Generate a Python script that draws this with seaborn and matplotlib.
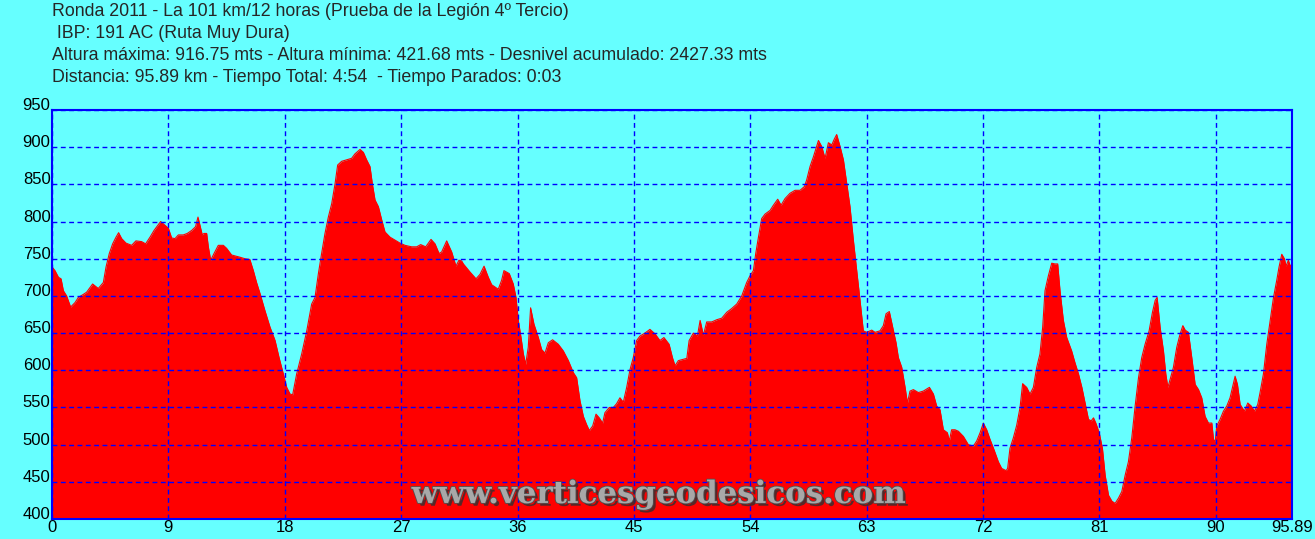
import numpy as np
import pandas as pd
import matplotlib
matplotlib.use("Agg")
import matplotlib.pyplot as plt
import matplotlib.patheffects as pe
import seaborn as sb

# elevation profile (km, metres)
km = [0.0, 0.23, 0.5, 0.7, 0.88, 1.13, 1.44, 1.78, 2.04, 2.42, 2.68, 3.14, 3.58, 3.97, 4.18, 4.43,
      4.69, 4.95, 5.15, 5.39, 5.72, 6.16, 6.49, 6.93, 7.24, 7.58, 7.89, 8.14, 8.40, 8.74, 9.0, 9.25,
      9.51, 9.77, 10.15, 10.46, 10.8, 11.1, 11.29, 11.44, 11.62, 11.75, 11.96, 12.09, 12.27, 12.53,
      12.86, 13.25, 13.5, 13.89, 14.54, 14.92, 15.3, 15.57, 15.82, 16.09, 16.47, 16.86, 17.25, 17.56,
      17.89, 18.15, 18.41, 18.61, 18.92, 19.31, 19.7, 20.08, 20.34, 20.6, 20.85, 21.11, 21.37, 21.63,
      21.89, 22.09, 22.4, 22.79, 23.17, 23.43, 23.82, 24.08, 24.33, 24.59, 24.77, 24.98, 25.24, 25.5,
      25.75, 26.14, 26.53, 26.91, 27.3, 27.81, 28.2, 28.51, 28.9, 29.31, 29.62, 29.93, 30.13, 30.52,
      30.91, 31.24, 31.47, 31.68, 31.81, 32.33, 32.79, 33.1, 33.41, 33.74, 34.0, 34.51, 34.77, 34.95,
      35.36, 35.67, 35.88, 36.06, 36.27, 36.45, 36.63, 36.83, 37.01, 37.27, 37.61, 37.86, 38.12, 38.38,
      38.71, 39.15, 39.54, 39.93, 40.31, 40.57, 40.83, 41.09, 41.34, 41.55, 41.81, 42.07, 42.32, 42.58,
      42.76, 43.1, 43.41, 43.66, 43.92, 44.18, 44.44, 44.7, 44.95, 45.21, 45.47, 45.85, 46.24, 46.63,
      47.01, 47.32, 47.72, 47.98, 48.18, 48.44, 49.09, 49.27, 49.6, 49.91, 50.12, 50.37, 50.63, 51.02,
      51.41, 51.79, 52.18, 52.56, 52.95, 53.34, 53.72, 53.98, 54.24, 54.42, 54.63, 54.88, 55.14, 55.53,
      55.79, 56.12, 56.38, 56.69, 57.07, 57.46, 57.85, 58.18, 58.36, 58.62, 58.88, 59.27, 59.52, 59.78,
      60.04, 60.3, 60.5, 60.68, 60.94, 61.2, 61.46, 61.71, 61.97, 62.23, 62.49, 62.74, 63.0, 63.39,
      63.65, 64.03, 64.29, 64.5, 64.75, 65.01, 65.27, 65.45, 65.71, 65.97, 66.15, 66.35, 66.61, 67.0,
      67.38, 67.85, 68.16, 68.41, 68.67, 68.93, 69.24, 69.39, 69.57, 69.83, 70.09, 70.48, 70.86, 71.25,
      71.51, 71.77, 72.02, 72.28, 72.54, 72.85, 73.18, 73.44, 73.78, 73.9, 74.08, 74.34, 74.6, 74.86,
      75.06, 75.37, 75.63, 75.89, 76.15, 76.4, 76.61, 76.79, 77.05, 77.31, 77.56, 77.77, 77.95, 78.21,
      78.47, 78.85, 79.11, 79.38, 79.64, 79.89, 80.15, 80.36, 80.54, 80.72, 80.98, 81.23, 81.44, 81.7,
      81.96, 82.21, 82.47, 82.73, 82.99, 83.24, 83.5, 83.76, 84.02, 84.27, 84.53, 84.84, 85.1, 85.31,
      85.46, 85.69, 85.95, 86.13, 86.29, 86.47, 86.72, 86.98, 87.24, 87.45, 87.63, 87.88, 88.14, 88.4,
      88.66, 88.91, 89.17, 89.43, 89.69, 89.82, 89.95, 90.07, 90.33, 90.59, 90.85, 91.1, 91.29, 91.49,
      91.67, 91.88, 92.21, 92.47, 92.73, 92.99, 93.24, 93.42, 93.68, 93.94, 94.2, 94.46, 94.71, 94.89,
      95.1, 95.3, 95.43, 95.61, 95.74, 95.89]
alt = [739, 734, 725, 723, 707, 700, 685, 691, 698, 702, 705, 716, 710, 718, 739, 757,
       770, 779, 785, 777, 771, 768, 774, 773, 770, 779, 788, 794, 800, 795, 791, 778,
       777, 782, 782, 784, 788, 793, 806, 795, 782, 784, 784, 766, 748, 757,
       768, 768, 764, 755, 752, 750, 749, 734, 718, 703, 680, 658, 640, 617,
       595, 577, 568, 567, 595, 622, 653, 689, 698, 730, 757, 784, 806, 824,
       851, 876, 881, 883, 885, 891, 897, 893, 883, 874, 851, 829, 820, 802,
       786, 779, 775, 771, 768, 766, 766, 769, 766, 776, 770, 757, 759, 774,
       759, 740, 748, 747, 743, 732, 723, 729, 740, 725, 715, 709, 721, 734,
       730, 716, 698, 667, 644, 622, 608, 631, 684, 662, 644, 628, 623, 637,
       641, 635, 626, 613, 597, 590, 559, 538, 527, 519, 525, 541, 536, 529,
       543, 550, 550, 555, 563, 557, 577, 601, 617, 640, 646, 650, 655, 649,
       640, 644, 635, 617, 606, 613, 616, 640, 650, 646, 667, 647, 665, 665,
       668, 670, 678, 683, 689, 700, 718, 727, 734, 757, 779, 804, 810, 815,
       822, 830, 822, 831, 838, 842, 842, 847, 856, 874, 887, 909, 901, 885,
       906, 903, 911, 917, 901, 883, 851, 820, 775, 734, 694, 653, 651, 654,
       651, 653, 660, 676, 679, 658, 637, 617, 604, 577, 556, 572, 574, 570,
       572, 577, 568, 552, 547, 520, 516, 505, 520, 520, 518, 511, 500, 498,
       505, 516, 529, 520, 507, 493, 477, 468, 465, 468, 495, 509, 526, 550,
       582, 577, 568, 577, 604, 622, 658, 707, 727, 744, 743, 743, 707, 667,
       644, 626, 610, 595, 577, 556, 534, 532, 536, 529, 516, 495, 459, 432,
       424, 421, 428, 437, 459, 477, 509, 552, 590, 617, 635, 653, 678, 694,
       698, 658, 626, 595, 577, 588, 604, 631, 649, 660, 654, 651, 617, 581,
       574, 563, 538, 529, 529, 507, 504, 525, 534, 545, 552, 563, 577, 592,
       581, 554, 545, 556, 552, 545, 554, 570, 595, 635, 667, 698, 721, 739,
       756, 750, 740, 748, 741, 741]

x_ticks = [0, 9, 18, 27, 36, 45, 54, 63, 72, 81, 90, 95.89]
x_labels = ["0", "9", "18", "27", "36", "45", "54", "63", "72", "81", "90", "95.89"]
y_ticks = list(range(400, 951, 50))

header = [
    "Ronda 2011 - La 101 km/12 horas (Prueba de la Legión 4º Tercio)",
    " IBP: 191 AC (Ruta Muy Dura)",
    "Altura máxima: 916.75 mts - Altura mínima: 421.68 mts - Desnivel acumulado: 2427.33 mts",
    "Distancia: 95.89 km - Tiempo Total: 4:54  - Tiempo Parados: 0:03",
]

BG = "#66FFFF"
BLUE = "#0000FF"

sb.set_style("white")
plt.rcParams["font.family"] = ["Liberation Sans", "DejaVu Sans"]

D = pd.DataFrame({"km": km, "alt": alt})

fig = plt.figure(figsize=(13.15, 5.39), dpi=100, facecolor=BG)
ax = fig.add_axes([52 / 1315, 1 - 519 / 539, 1240 / 1315, 409 / 539])
ax.set_facecolor(BG)

ax.fill_between(D["km"], D["alt"], 400, color="#FF0000", linewidth=0, zorder=1)
sb.lineplot(data=D, x="km", y="alt", ax=ax, color="#FF0000", linewidth=0.8, zorder=2)

ax.set_xlim(0, 95.89)
ax.set_ylim(400, 950)
ax.set_xticks(x_ticks)
ax.set_xticklabels(x_labels)
ax.set_yticks(y_ticks)
ax.set_xlabel("")
ax.set_ylabel("")
ax.tick_params(length=0, pad=1, labelsize=12, labelcolor="black")
for lab in ax.get_yticklabels():
    lab.set_verticalalignment("baseline")

ax.grid(True, color=BLUE, linestyle=(0, (3.5, 2.5)), linewidth=1, zorder=3)
ax.set_axisbelow(False)
for s in ax.spines.values():
    s.set_color(BLUE)
    s.set_linewidth(1.5)
    s.set_zorder(4)

for i, line in enumerate(header):
    fig.text(52 / 1315, 1 - (12 + 21.7 * i) / 539, line, fontsize=12.8, va="center", ha="left")

ax.text(0.4895, 0.06, "www.verticesgeodesicos.com", transform=ax.transAxes,
        ha="center", va="center", fontsize=22.2, fontweight="bold", family="DejaVu Serif",
        color="#a8a8a8", zorder=5,
        path_effects=[pe.withSimplePatchShadow(offset=(2, -2), shadow_rgbFace="#303030", alpha=0.8),
                      pe.withStroke(linewidth=1.2, foreground="#505050")])

fig.savefig("out.png", dpi=100, facecolor=BG)
